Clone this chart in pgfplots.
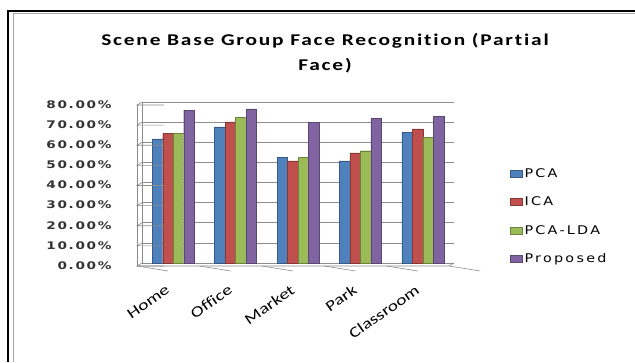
\documentclass[border=0pt]{standalone}
\usepackage{pgfplots}
\pgfplotsset{compat=1.18}
\usepackage{fontspec}
\setmainfont{Carlito}
\newfontfamily\titlefont[FakeStretch=1.3,LetterSpace=11,Ligatures=NoCommon]{Carlito}
\newfontfamily\tickfont[FakeStretch=1.3,LetterSpace=16]{DejaVu Sans}
\newfontfamily\legfont[FakeStretch=1.2,LetterSpace=19]{DejaVu Sans}
\newfontfamily\catfont[FakeStretch=1.3,Ligatures=NoCommon]{Carlito}

\definecolor{cPCA}{HTML}{4F81BD}
\definecolor{cICA}{HTML}{C0504D}
\definecolor{cLDA}{HTML}{9BBB59}
\definecolor{cPro}{HTML}{8064A2}
\definecolor{gridgray}{HTML}{8C8C8C}

\begin{document}
\begin{tikzpicture}[x=1bp,y=1bp]
% page frame
\path[use as bounding box] (0,0) rectangle (635,362);
\draw[black,line width=1.3bp] (8,0) -- (8,351) -- (635,351);
\draw[gray!70,line width=1bp] (13,0) -- (13,348) -- (635,348);

% title
\node[font=\titlefont\bfseries\fontsize{16.5}{25}\selectfont,align=center] at (325,309)
  {Scene Base Group Face Recognition (Partial\\Face)};

\begin{axis}[
  at={(142bp,99bp)}, anchor=south west,
  scale only axis, width=312bp, height=161bp,
  xmin=-0.5, xmax=4.5, ymin=0, ymax=80,
  clip=false,
  ybar=0pt, bar width=10.5bp,
  axis x line*=bottom, axis y line*=left,
  axis line style={gridgray},
  ymajorgrids, grid style={gridgray,line width=0.6bp},
  ytick={0,10,...,80},
  /pgf/number format/assume math mode=true,
  yticklabel={\tickfont\bfseries\fontsize{10.5}{12}\selectfont\pgfmathprintnumber[fixed,fixed zerofill,precision=2]{\tick}\%},
  y tick label style={text=black!80, xshift=-27bp, yshift=-2.5bp},
  ytick style={draw=none},
  xtick={0,1,2,3,4},
  xticklabels={Home,Office,Market,Park,Classroom},
  x tick style={draw=none},
  x tick label style={font=\catfont\fontsize{15}{17}\selectfont,inner sep=1bp,yshift=-15bp,xshift=-8bp,rotate=35,anchor=north east},
  legend style={draw=none, fill=none, at={(1.17,0.29)}, anchor=west,
    font=\legfont\fontsize{12}{13}\selectfont, row sep=14bp,
    /tikz/every even column/.append style={column sep=2bp}},
  legend cell align=left,
  legend image code/.code={\fill[#1] (0bp,-3.5bp) rectangle (12bp,3.5bp);},
]
\addplot[fill=cPCA, draw=cPCA!70!black, line width=0.3bp] coordinates {(0,61.7) (1,67.7) (2,52.5) (3,50.8) (4,65.0)};
\addplot[fill=cICA, draw=cICA!70!black, line width=0.3bp] coordinates {(0,64.3) (1,70.1) (2,50.8) (3,54.7) (4,66.7)};
\addplot[fill=cLDA, draw=cLDA!70!black, line width=0.3bp] coordinates {(0,64.4) (1,72.5) (2,52.5) (3,55.8) (4,62.5)};
\addplot[fill=cPro, draw=cPro!70!black, line width=0.3bp] coordinates {(0,76.0) (1,76.6) (2,70.0) (3,71.9) (4,73.0)};
\legend{PCA,ICA,PCA-LDA,Proposed}

% front edge of the wall and floor, with tick marks
\draw[gridgray,line width=0.6bp] ([xshift=-5bp,yshift=-3bp]axis cs:-0.5,0) -- ([xshift=-5bp,yshift=-3bp]axis cs:-0.5,80);
\pgfplotsinvokeforeach{0,10,20,30,40,50,60,70,80}{
  \draw[gridgray,line width=0.6bp] (axis cs:-0.5,#1) -- ++(-5bp,-3bp) -- ++(-4bp,0);
}
\draw[gridgray,line width=0.6bp] ([xshift=-5bp,yshift=-3bp]axis cs:-0.5,0) -- ([xshift=-5bp,yshift=-3bp]axis cs:4.5,0) -- (axis cs:4.5,0);
\pgfplotsinvokeforeach{-0.5,0.5,1.5,2.5,3.5,4.5}{
  \draw[gridgray,line width=0.6bp] ([xshift=-5bp,yshift=-3bp]axis cs:#1,0) -- ++(0,-5bp);
}
\end{axis}
\end{tikzpicture}
\end{document}
